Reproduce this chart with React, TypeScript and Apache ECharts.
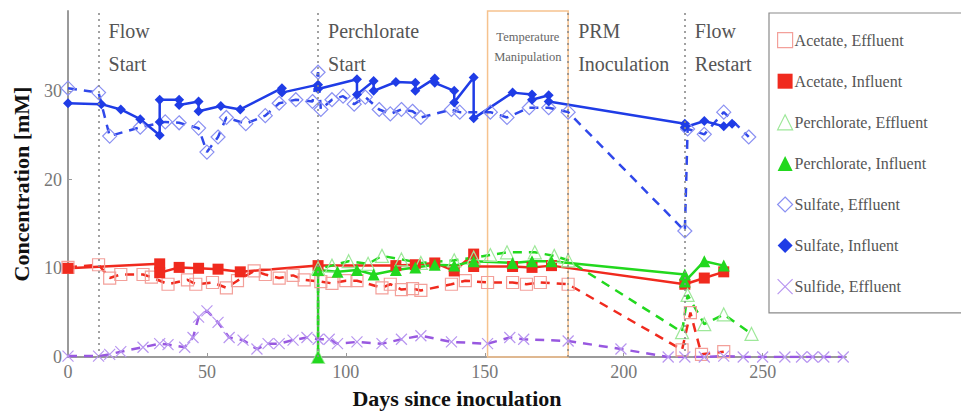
import React, { useEffect, useRef } from "react";
import * as echarts from "echarts";

// ---- data (day, mM) ----
const acetateEffluent: number[][] = [
  [0, 10.1], [11, 10.4], [15, 8.9], [19, 9.3], [27, 9.3], [30, 9.0], [36, 8.2], [43, 8.7], [46, 8.2],
  [52, 8.4], [57, 7.8], [61, 8.6], [67, 9.7], [71, 9.3], [76, 8.9], [81, 9.2], [85, 8.7], [91, 8.5],
  [95, 8.3], [100, 8.6], [104, 8.6], [113, 7.8], [116, 8.2], [120, 7.6], [124, 7.7], [127, 7.5],
  [138, 8.2], [143, 8.6], [151, 8.4], [160, 8.4], [165, 8.2], [170, 8.4], [180, 8.2], [221, 0.8],
  [224, 5.0], [228, 0.3], [236, 0.6],
];
const acetateInfluent: number[][] = [
  [0, 10.0], [33, 10.5], [33, 9.5], [40, 10.1], [47, 10.0], [54, 9.9], [62, 9.6], [90, 10.3],
  [118, 10.3], [125, 10.4], [132, 10.6], [139, 9.7], [146, 11.6], [146, 10.2], [160, 10.2],
  [167, 10.1], [174, 10.3], [222, 8.2], [229, 8.9], [236, 9.6],
];
const perchlorateEffluent: number[][] = [
  [90, 0], [90, 10.0], [95, 10.3], [101, 10.8], [108, 10.5], [113, 11.4], [120, 11.0], [127, 10.6],
  [139, 10.9], [146, 11.2], [152, 11.5], [158, 11.8], [168, 11.8], [175, 11.4], [180, 10.9],
  [221, 2.8], [223, 7.0], [229, 3.7], [236, 4.8], [246, 2.6],
];
const perchlorateInfluent: number[][] = [
  [90, 0], [90, 9.8], [97, 9.6], [104, 9.8], [110, 9.3], [118, 9.8], [125, 10.1], [132, 10.4],
  [139, 10.3], [146, 10.8], [160, 10.6], [167, 10.8], [174, 10.8], [222, 9.3], [222, 8.5],
  [229, 10.8], [236, 10.3],
];
const sulfateEffluent: number[][] = [
  [0, 30.3], [11, 29.8], [15, 24.9], [26, 25.9], [35, 26.5], [40, 26.4], [47, 25.8], [50, 23.1],
  [54, 24.8], [57, 27.0], [64, 26.3], [71, 27.2], [76, 28.6], [82, 29.0], [88, 28.8], [90, 32.1],
  [91, 27.9], [95, 29.0], [99, 29.4], [103, 28.5], [107, 29.3], [112, 27.9], [116, 27.4], [120, 27.9],
  [124, 27.7], [127, 27.0], [138, 27.9], [141, 27.6], [152, 27.6], [158, 27.0], [166, 28.1],
  [173, 28.1], [180, 27.6], [222, 14.2], [223, 25.7], [229, 25.1], [236, 27.6], [245, 24.8],
];
const sulfateInfluent: number[][] = [
  [0, 28.6], [12, 28.5], [19, 27.9], [26, 26.8], [33, 25.0], [33, 26.5], [33, 29.0], [40, 29.0],
  [40, 28.4], [47, 28.8], [47, 27.7], [55, 28.3], [62, 27.9], [77, 30.3], [77, 29.8], [90, 30.7],
  [90, 30.2], [104, 31.3], [104, 29.6], [110, 31.1], [110, 30.0], [118, 31.0], [125, 30.9],
  [125, 30.0], [132, 31.4], [132, 30.9], [139, 30.0], [139, 28.7], [146, 31.5], [146, 26.9],
  [160, 29.8], [167, 29.6], [167, 29.0], [173, 29.5], [173, 28.8], [222, 26.3], [222, 25.9],
  [229, 26.6], [236, 26.0], [239, 26.3],
];
const sulfideEffluent: number[][] = [
  [0, 0.1], [11, 0.1], [15, 0.3], [19, 0.6], [27, 1.1], [33, 1.5], [36, 1.4], [42, 1.1], [45, 2.2],
  [47, 4.5], [50, 5.2], [54, 3.9], [58, 2.2], [63, 1.9], [68, 0.9], [72, 1.5], [76, 1.5], [81, 1.9],
  [86, 2.2], [90, 2.0], [94, 2.0], [97, 1.5], [104, 1.7], [113, 1.5], [120, 2.0], [127, 2.4],
  [138, 1.7], [151, 1.5], [159, 2.2], [164, 2.0], [180, 1.8], [199, 0.9], [216, 0.0], [222, 0.0],
  [229, 0.0], [236, 0.1], [243, 0.0], [250, 0.0], [258, 0.0], [264, 0.0], [268, 0.0], [272, 0.0],
  [279, 0.0],
];

const xTicks = [0, 50, 100, 150, 200, 250];
const yTicks = [0, 10, 20, 30];
const eventDays = [11, 90, 180, 222];
const tempWindow = [151, 180];
const annotations = [
  { day: 11, text: "Flow\nStart" },
  { day: 90, text: "Perchlorate\nStart" },
  { day: 180, text: "PRM\nInoculation" },
  { day: 222, text: "Flow\nRestart" },
];
const tempLabel = "Temperature\nManipulation";

const FONT = "Liberation Serif";
const XSYM = "path://M0,0L10,10M10,0L0,10";

export default function App() {
  const ref = useRef<HTMLDivElement>(null);
  useEffect(() => {
    const chart = echarts.init(ref.current!, null, { renderer: "svg" });
    const line = (
      name: string, data: number[][], symbol: string, size: number,
      lineColor: string, dashed: boolean, item: any, z = 2
    ) => ({
      type: "line", name, data, symbol, symbolSize: size, z,
      lineStyle: { color: lineColor, width: 2.5, type: dashed ? [9, 7] : "solid" },
      itemStyle: item,
      emphasis: { disabled: true },
    });
    const red = "#f02a1e", green = "#22d81e", blue = "#1f3ce6", purple = "#9858e0";
    const series: any[] = [
      line("Acetate, Effluent", acetateEffluent, "rect", 12, red, true,
        { color: "rgba(255,255,255,0)", borderColor: "#f3a09a", borderWidth: 1.2 }),
      line("Acetate, Influent", acetateInfluent, "rect", 11, red, false, { color: red }),
      line("Perchlorate, Effluent", perchlorateEffluent, "triangle", 13, green, true,
        { color: "rgba(255,255,255,0)", borderColor: "#9ee89a", borderWidth: 1.2 }),
      line("Perchlorate, Influent", perchlorateInfluent, "triangle", 12, green, false, { color: green }),
      line("Sulfate, Effluent", sulfateEffluent, "diamond", 14, "#3048ea", true,
        { color: "rgba(255,255,255,0)", borderColor: "#8a90f2", borderWidth: 1.2 }),
      line("Sulfate, Influent", sulfateInfluent, "diamond", 10, blue, false, { color: blue }),
      line("Sulfide, Effluent", sulfideEffluent, XSYM, 11, purple, true,
        { color: "rgba(255,255,255,0)", borderColor: "#b896f0", borderWidth: 1.2 }),
      {
        type: "line", name: "events", data: [], silent: true,
        markLine: {
          silent: true, symbol: "none", label: { show: false },
          lineStyle: { color: "#8a8a8a", type: [2, 4], width: 1.6 },
          data: eventDays.map((d) => ({ xAxis: d })),
        },
        markArea: {
          silent: true,
          itemStyle: { color: "rgba(255,255,255,0)", borderColor: "#f6c28e", borderWidth: 1.5 },
          data: [[{ xAxis: tempWindow[0] }, { xAxis: tempWindow[1] }]],
        },
      },
    ];
    const legendStyles: any[] = [
      { icon: "rect", itemStyle: { color: "rgba(255,255,255,0)", borderColor: "#f3a09a", borderWidth: 1.2 } },
      { icon: "rect", itemStyle: { color: red } },
      { icon: "triangle", itemStyle: { color: "rgba(255,255,255,0)", borderColor: "#9ee89a", borderWidth: 1.2 } },
      { icon: "triangle", itemStyle: { color: green } },
      { icon: "diamond", itemStyle: { color: "rgba(255,255,255,0)", borderColor: "#8a90f2", borderWidth: 1.2 } },
      { icon: "diamond", itemStyle: { color: blue } },
      { icon: XSYM, itemStyle: { color: "rgba(255,255,255,0)", borderColor: "#b896f0", borderWidth: 1.2 } },
    ];
    const option: any = {
      animation: false,
      backgroundColor: "#fff",
      textStyle: { fontFamily: FONT },
      grid: { left: 68, top: 11, width: 778, height: 349, containLabel: false },
      xAxis: {
        type: "value", min: 0, max: 280, interval: 50,
        name: "Days since inoculation", nameLocation: "middle", nameGap: 30,
        nameTextStyle: { fontFamily: FONT, fontSize: 22, fontWeight: "bold", color: "#111" },
        axisLine: { lineStyle: { color: "#9a9a9a", width: 2 } },
        axisTick: { show: true, inside: true, length: 4, lineStyle: { color: "#9a9a9a" }, customValues: xTicks },
        axisLabel: { fontFamily: FONT, fontSize: 18, color: "#777", margin: 6, customValues: xTicks },
        splitLine: { show: false },
      },
      yAxis: {
        type: "value", min: 0, max: 39, interval: 10,
        name: "Concentration [mM]", nameLocation: "middle", nameGap: 36,
        nameTextStyle: { fontFamily: FONT, fontSize: 22, fontWeight: "bold", color: "#111" },
        axisLine: { show: true, lineStyle: { color: "#9a9a9a", width: 2 } },
        axisTick: { show: true, inside: true, length: 4, lineStyle: { color: "#9a9a9a" }, customValues: yTicks },
        axisLabel: { fontFamily: FONT, fontSize: 18, color: "#777", margin: 6, customValues: yTicks },
        splitLine: { show: false },
      },
      legend: {
        orient: "vertical", left: 769, top: 13,
        padding: [19, 80, 18, 8], itemGap: 25, itemWidth: 15, itemHeight: 15,
        borderColor: "#8a8a8a", borderWidth: 1.2, backgroundColor: "#fff",
        textStyle: { fontFamily: FONT, fontSize: 16, color: "#555", padding: [0, 0, 0, -3] },
        selectedMode: false,
        data: series.slice(0, 7).map((s, i) => ({ name: s.name, ...legendStyles[i] })),
      },
      series,
    };
    chart.setOption(option);

    const top = chart.convertToPixel({ gridIndex: 0 }, [0, 39])[1];
    const graphic: any[] = annotations.map((a) => {
      const px = chart.convertToPixel({ gridIndex: 0 }, [a.day, 0])[0];
      return {
        type: "text", x: px + 10, y: top + 36, silent: true,
        style: {
          text: a.text, fontFamily: FONT, fontSize: 20, fill: "#555", lineHeight: 33,
          verticalAlign: "middle",
        },
      };
    });
    const cx = (chart.convertToPixel({ gridIndex: 0 }, [tempWindow[0], 0])[0] +
      chart.convertToPixel({ gridIndex: 0 }, [tempWindow[1], 0])[0]) / 2;
    graphic.push({
      type: "text", x: cx, y: top + 36, silent: true,
      style: {
        text: tempLabel, fontFamily: FONT, fontSize: 12.5, fill: "#666", lineHeight: 20,
        align: "center", verticalAlign: "middle",
      },
    });
    chart.setOption({ graphic });
    return () => chart.dispose();
  }, []);
  return <div ref={ref} style={{ position: "fixed", left: 0, top: 0, width: 961, height: 414 }} />;
}
